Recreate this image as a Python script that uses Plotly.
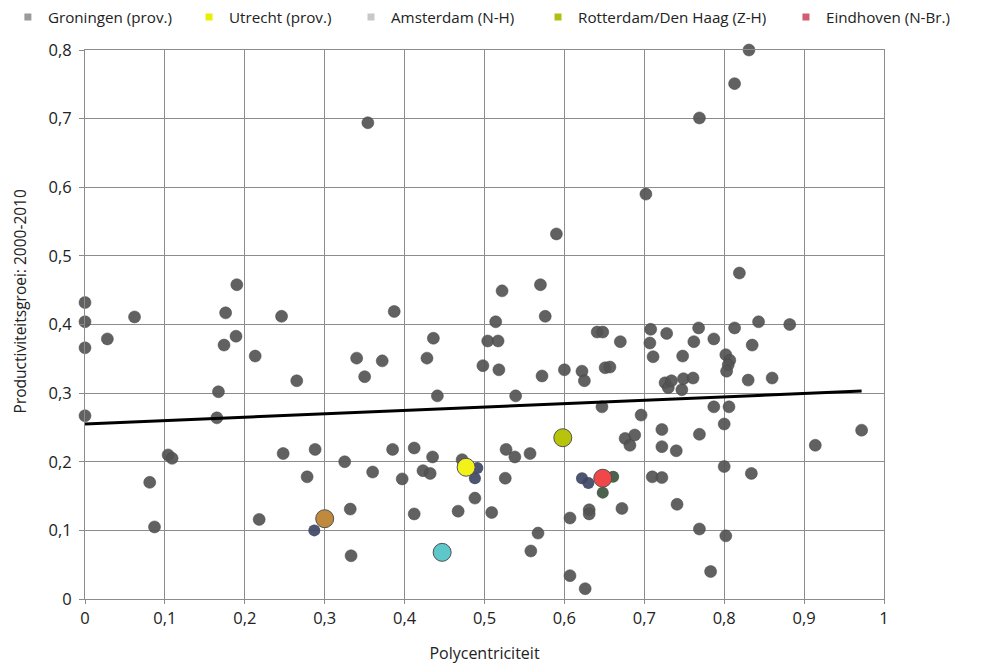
import plotly.graph_objects as go

# Gray region points (Polycentriciteit, Productiviteitsgroei)
gray_x = [0.000, 0.000, 0.000, 0.000, 0.028, 0.062, 0.081, 0.087, 0.104, 0.109,
          0.165, 0.167, 0.174, 0.176, 0.189, 0.190, 0.213, 0.218, 0.246, 0.248,
          0.265, 0.278, 0.288, 0.325, 0.332, 0.333, 0.340, 0.350, 0.354, 0.360,
          0.372, 0.385, 0.387, 0.397, 0.412, 0.412, 0.423, 0.428, 0.432, 0.435,
          0.436, 0.441, 0.467, 0.472, 0.488, 0.498, 0.504, 0.509, 0.514, 0.517,
          0.518, 0.522, 0.527, 0.526, 0.538, 0.539, 0.557, 0.558, 0.567, 0.570,
          0.572, 0.576, 0.590, 0.600, 0.607, 0.607, 0.622, 0.625, 0.626, 0.631,
          0.631, 0.641, 0.648, 0.647, 0.651, 0.657, 0.670, 0.672, 0.676, 0.682,
          0.688, 0.696, 0.702, 0.707, 0.708, 0.710, 0.711, 0.722, 0.722, 0.722,
          0.726, 0.728, 0.730, 0.734, 0.740, 0.741, 0.747, 0.749, 0.748, 0.761,
          0.762, 0.768, 0.769, 0.769, 0.769, 0.783, 0.787, 0.787, 0.800, 0.800,
          0.802, 0.802, 0.807, 0.805, 0.803, 0.806, 0.813, 0.813, 0.819, 0.830,
          0.831, 0.834, 0.835, 0.843, 0.860, 0.882, 0.914, 0.972]
gray_y = [0.432, 0.404, 0.366, 0.267, 0.379, 0.411, 0.170, 0.105, 0.210, 0.205,
          0.264, 0.302, 0.370, 0.417, 0.383, 0.458, 0.354, 0.116, 0.412, 0.212,
          0.318, 0.178, 0.218, 0.200, 0.131, 0.063, 0.351, 0.324, 0.694, 0.185,
          0.347, 0.218, 0.419, 0.175, 0.220, 0.124, 0.187, 0.351, 0.183, 0.207,
          0.380, 0.296, 0.128, 0.203, 0.147, 0.340, 0.376, 0.126, 0.404, 0.376,
          0.334, 0.449, 0.218, 0.176, 0.207, 0.296, 0.212, 0.070, 0.096, 0.458,
          0.325, 0.412, 0.532, 0.334, 0.118, 0.034, 0.332, 0.318, 0.015, 0.130,
          0.124, 0.389, 0.389, 0.280, 0.337, 0.338, 0.375, 0.132, 0.234, 0.224,
          0.239, 0.268, 0.590, 0.373, 0.393, 0.178, 0.353, 0.247, 0.222, 0.177,
          0.315, 0.387, 0.308, 0.318, 0.216, 0.138, 0.305, 0.321, 0.354, 0.322,
          0.375, 0.395, 0.701, 0.240, 0.102, 0.040, 0.379, 0.280, 0.255, 0.193,
          0.092, 0.356, 0.348, 0.341, 0.332, 0.280, 0.751, 0.395, 0.475, 0.319,
          0.800, 0.183, 0.370, 0.404, 0.322, 0.400, 0.224, 0.246]

# Small bluish / greenish points (regions near the highlighted cities)
blue_x = [0.287, 0.488, 0.491, 0.622, 0.630]
blue_y = [0.100, 0.176, 0.191, 0.176, 0.169]
green_x = [0.648, 0.661]
green_y = [0.155, 0.178]

# Highlighted city regions
cities = ["Groningen (prov.)", "Utrecht (prov.)", "Amsterdam (N-H)",
          "Rotterdam/Den Haag (Z-H)", "Eindhoven (N-Br.)"]
city_x = [0.300, 0.477, 0.447, 0.598, 0.648]
city_y = [0.117, 0.192, 0.068, 0.235, 0.176]

# Trend line end points
trend_x = [0.0, 0.972]
trend_y = [0.255, 0.303]

x_ticks = [0, 0.1, 0.2, 0.3, 0.4, 0.5, 0.6, 0.7, 0.8, 0.9, 1]
y_ticks = [0, 0.1, 0.2, 0.3, 0.4, 0.5, 0.6, 0.7, 0.8]

x_title = "Polycentriciteit"
y_title = "Productiviteitsgroei: 2000-2010"

city_colors = ["#C08A3E", "#F2F21A", "#5EC7C9", "#B7C40A", "#F04848"]
legend_colors = ["#9A9A9A", "#E8F000", "#C8C8C8", "#B0C010", "#D06070"]
legend_pos = [-0.0965, 0.1302, 0.3329, 0.5670, 0.8773]

FONT = "Open Sans, Lato, sans-serif"

fig = go.Figure()

fig.add_trace(go.Scatter(
    x=gray_x, y=gray_y, mode="markers", showlegend=False, cliponaxis=False,
    marker=dict(size=12, color="rgba(84,84,84,0.92)",
                line=dict(width=1, color="rgba(70,70,70,0.5)")),
    hoverinfo="x+y"))
fig.add_trace(go.Scatter(
    x=blue_x, y=blue_y, mode="markers", showlegend=False, cliponaxis=False,
    marker=dict(size=12, color="rgba(62,70,100,0.92)"), hoverinfo="x+y"))
fig.add_trace(go.Scatter(
    x=green_x, y=green_y, mode="markers", showlegend=False, cliponaxis=False,
    marker=dict(size=12, color="rgba(60,85,62,0.92)"), hoverinfo="x+y"))

fig.add_trace(go.Scatter(
    x=trend_x, y=trend_y, mode="lines", showlegend=False,
    line=dict(color="black", width=3), hoverinfo="skip"))

legend_layout = {}
for i, name in enumerate(cities):
    lg = "legend" if i == 0 else f"legend{i + 1}"
    fig.add_trace(go.Scatter(
        x=[city_x[i]], y=[city_y[i]], mode="markers", name=name,
        showlegend=False, cliponaxis=False,
        marker=dict(size=18, color=city_colors[i],
                    line=dict(width=1, color="#505050"))))
    fig.add_trace(go.Scatter(
        x=[None], y=[None], mode="markers", name=name, showlegend=True,
        legend=lg,
        marker=dict(size=7, symbol="square", color=legend_colors[i])))
    legend_layout[lg] = dict(
        orientation="h", x=legend_pos[i], xanchor="left", y=1.060,
        yanchor="middle", font=dict(family=FONT, size=15.2, color="#222"),
        itemwidth=30, bgcolor="rgba(0,0,0,0)", borderwidth=0)

fig.add_annotation(
    text=y_title, xref="paper", yref="paper", x=-0.082, y=0.543,
    xanchor="center", yanchor="middle", textangle=-90, showarrow=False,
    font=dict(family=FONT, size=15.5, color="#222"))

fig.update_layout(
    width=985, height=666,
    margin=dict(l=77, r=109, t=42, b=75, autoexpand=False),
    paper_bgcolor="white", plot_bgcolor="white",
    separators=", ",
    font=dict(family=FONT, size=14, color="#222"),
    xaxis=dict(range=[0, 1], tickvals=x_ticks, showgrid=True,
               gridcolor="#8C8C8C", gridwidth=1, zeroline=False,
               showline=True, linecolor="#8C8C8C", mirror=True,
               ticks="outside", ticklen=4, tickcolor="#8C8C8C",
               automargin=False,
               title=dict(text=x_title, standoff=20,
                          font=dict(family=FONT, size=16)),
               tickfont=dict(family=FONT, size=16.5)),
    yaxis=dict(range=[0, 0.8], tickvals=y_ticks, showgrid=True,
               gridcolor="#8C8C8C", gridwidth=1, zeroline=False,
               showline=True, linecolor="#8C8C8C", mirror=True,
               ticks="outside", ticklen=5, tickcolor="#8C8C8C",
               ticklabelstandoff=4, automargin=False,
               tickfont=dict(family=FONT, size=16.5)),
    **legend_layout,
)

fig.write_html("out.html")
